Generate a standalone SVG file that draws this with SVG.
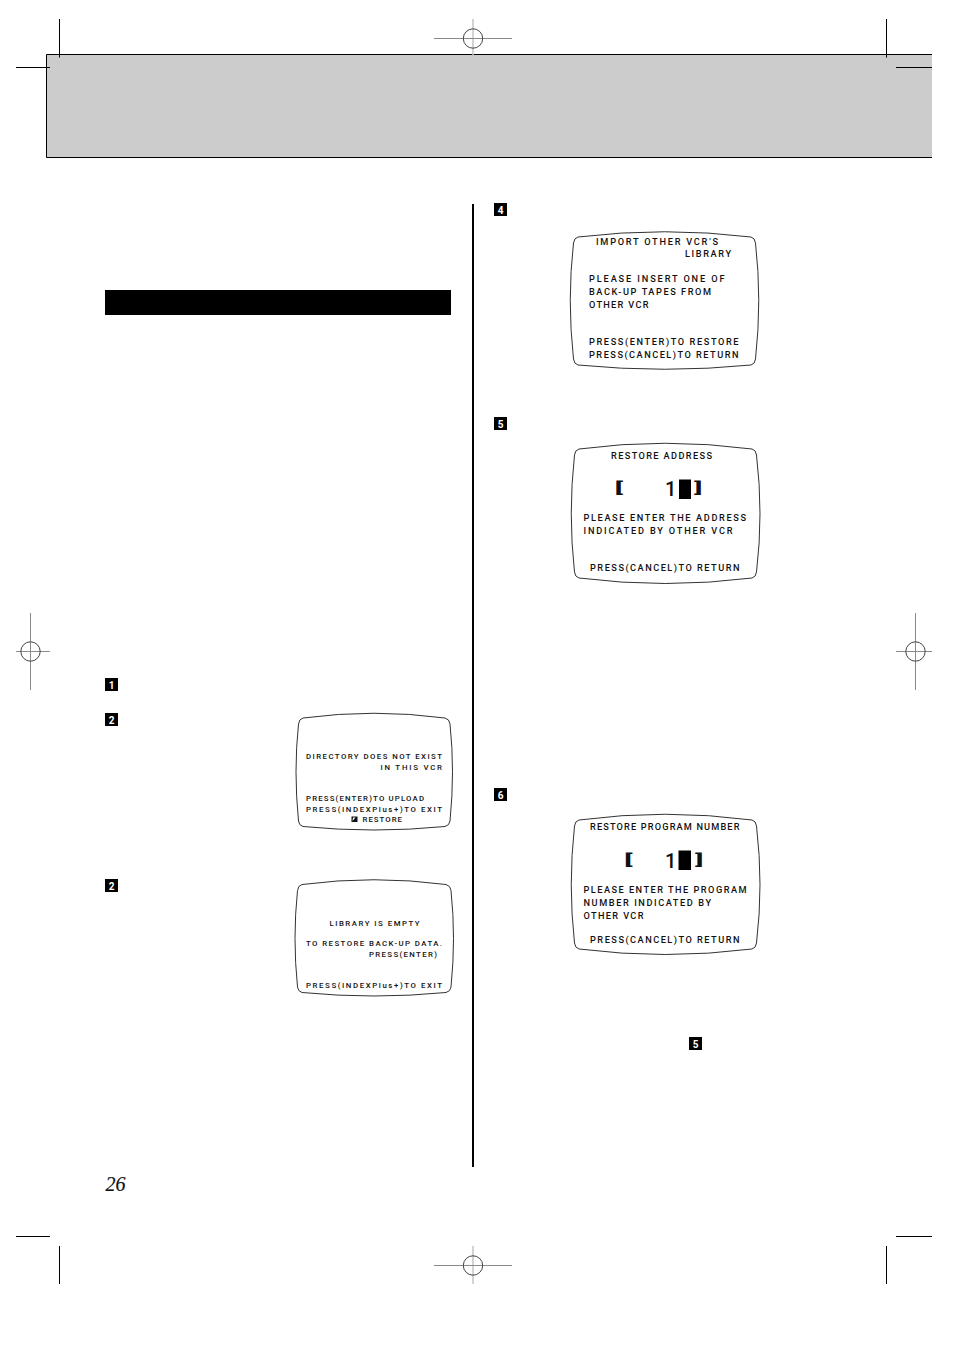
<svg xmlns="http://www.w3.org/2000/svg" width="954" height="1351" viewBox="0 0 954 1351">
<style>
.crop{stroke:#000;stroke-width:1;fill:none}
.reg{stroke:#8a8a8a;stroke-width:1;fill:none}
.regv{stroke:#c4c4c4;stroke-width:1.500;fill:none}
.regc{stroke:#444;stroke-width:1;fill:none}
.scr{fill:#fff;stroke:#333;stroke-width:1}
text{font-family:Roboto,"Liberation Sans",Arial,sans-serif;fill:#111}
.s{font-size:7.800px;font-weight:500}
.l{font-size:9.200px;font-weight:500}
.big{font-size:20px;font-weight:500}
.brk{font-size:12px;font-weight:700}
.num{font-size:10px;font-weight:700;fill:#fff;text-anchor:middle}
.pg{font-family:"Liberation Serif","Times New Roman",serif;font-style:italic;font-size:20px;fill:#111;stroke:#111;stroke-width:.2}
</style>
<rect width="954" height="1351" fill="#fff"/>
<g id="header">
<rect x="46" y="54" width="886" height="103.500" fill="#ccc"/>
<path class="crop" d="M932 54.500H46.500V157.500H932"/>
</g>
<g id="crop-marks">
<path class="crop" d="M59.500 19V57.500M16 67.500H50M886.500 19V57.500M896 67.500H932M16 1236.500H50M59.500 1246V1284M896 1236.500H932M886.500 1246V1284"/>
</g>
<g id="registration-marks">
<path class="regv" d="M473 19V57"/><path class="reg" d="M434 38.500H512"/><circle class="regc" cx="473" cy="38.500" r="9.700"/>
<path class="regv" d="M473 1246V1284"/><path class="reg" d="M434 1265.500H512"/><circle class="regc" cx="473" cy="1265.500" r="9.700"/>
<path class="reg" d="M16 651.500H50M30.500 613V690"/><circle class="regc" cx="30.500" cy="651.500" r="9.700"/>
<path class="reg" d="M896 651.500H932M915.500 613V690"/><circle class="regc" cx="915.500" cy="651.500" r="9.700"/>
</g>
<rect id="title-bar" x="105" y="290" width="346" height="25" fill="#000"/>
<rect id="divider" x="472" y="204" width="2" height="963" fill="#000"/>
<text id="page-number" class="pg" x="105.500" y="1191">26</text>
<g id="step-markers">
<g id="step-1"><rect x="105" y="678" width="13" height="13" fill="#000"/><text class="num" x="111.500" y="688.500">1</text></g>
<g id="step-2a"><rect x="105" y="713" width="13" height="13" fill="#000"/><text class="num" x="111.500" y="723.500">2</text></g>
<g id="step-2b"><rect x="105" y="879" width="13" height="13" fill="#000"/><text class="num" x="111.500" y="889.500">2</text></g>
<g id="step-4"><rect x="494" y="203" width="13" height="13" fill="#000"/><text class="num" x="500.500" y="213.500">4</text></g>
<g id="step-5a"><rect x="494" y="417" width="13" height="13" fill="#000"/><text class="num" x="500.500" y="427.500">5</text></g>
<g id="step-6"><rect x="494" y="788" width="13" height="13" fill="#000"/><text class="num" x="500.500" y="798.500">6</text></g>
<g id="step-5b"><rect x="689" y="1037" width="13" height="13" fill="#000"/><text class="num" x="695.500" y="1047.500">5</text></g>
</g>
<g id="connectors"></g>
<g id="screen-directory">
<path class="scr" d="M303 718Q374 708.500 445 718Q449.500 719 450 724Q455 771 450 821Q449.500 825.500 445 826.500Q374 833.500 303 826.500Q299 825.500 298.500 821Q293.500 771 298.500 724Q299 719 303 718Z"/>
<text class="s" x="306" y="759" textLength="136" lengthAdjust="spacing">DIRECTORY DOES NOT EXIST</text>
<text class="s" x="380.500" y="770" textLength="61.500" lengthAdjust="spacing">IN THIS VCR</text>
<text class="s" x="306" y="801" textLength="118" lengthAdjust="spacing">PRESS(ENTER)TO UPLOAD</text>
<text class="s" x="306" y="812" textLength="136" lengthAdjust="spacing">PRESS(INDEXPlus+)TO EXIT</text>
<rect x="351.500" y="816.500" width="6" height="5.500" fill="#111"/><path d="M352.500 821L355.500 817.500H353Z" fill="#fff"/>
<text class="s" x="362.500" y="822" textLength="39.500" lengthAdjust="spacing">RESTORE</text>
</g>
<g id="screen-library">
<path class="scr" d="M302 884.500Q374 875 446 884.500Q450.500 885.500 451 890.500Q456 938 451 987Q450.500 991.500 446 992.500Q374 999.500 302 992.500Q298 991.500 297.500 987Q292.500 938 297.500 890.500Q298 885.500 302 884.500Z"/>
<text class="s" x="329.500" y="926" textLength="90" lengthAdjust="spacing">LIBRARY IS EMPTY</text>
<text class="s" x="306" y="946" textLength="136" lengthAdjust="spacing">TO RESTORE BACK-UP DATA.</text>
<text class="s" x="369" y="957" textLength="68" lengthAdjust="spacing">PRESS(ENTER)</text>
<text class="s" x="306" y="988" textLength="136" lengthAdjust="spacing">PRESS(INDEXPlus+)TO EXIT</text>
</g>
<g id="screen-import">
<path class="scr" d="M578 237Q665 226.500 751 237Q755 238 755.500 243Q762 300 755.500 359Q755 364 751 365Q665 373.500 578 365Q574 364 573.500 359Q567 300 573.500 243Q574 238 578 237Z"/>
<text class="l" x="596" y="245" textLength="122" lengthAdjust="spacing">IMPORT OTHER VCR'S</text>
<text class="l" x="685" y="257" textLength="46" lengthAdjust="spacing">LIBRARY</text>
<text class="l" x="589" y="282" textLength="135.500" lengthAdjust="spacing">PLEASE INSERT ONE OF</text>
<text class="l" x="589" y="295" textLength="122" lengthAdjust="spacing">BACK-UP TAPES FROM</text>
<text class="l" x="589" y="308" textLength="59.500" lengthAdjust="spacing">OTHER VCR</text>
<text class="l" x="589" y="345" textLength="149.500" lengthAdjust="spacing">PRESS(ENTER)TO RESTORE</text>
<text class="l" x="589" y="358" textLength="149.500" lengthAdjust="spacing">PRESS(CANCEL)TO RETURN</text>
</g>
<g id="screen-address">
<path class="scr" d="M579 449Q665 437.500 752 449Q756 450 756.500 455Q763.500 514 756.500 572Q756 577 752 578Q665 589 579 578Q575 577 574.500 572Q568 514 574.500 455Q575 450 579 449Z"/>
<text class="l" x="611" y="459" textLength="101" lengthAdjust="spacing">RESTORE ADDRESS</text>
<text class="brk" transform="translate(614.500 493) scale(2.600 1.200)">[</text>
<text class="big" x="665" y="496">1</text>
<rect x="679" y="479.500" width="12" height="19.500" fill="#000"/>
<text class="brk" transform="translate(694 493) scale(2.600 1.200)">]</text>
<text class="l" x="583.500" y="521" textLength="162.500" lengthAdjust="spacing">PLEASE ENTER THE ADDRESS</text>
<text class="l" x="583.500" y="534" textLength="149" lengthAdjust="spacing">INDICATED BY OTHER VCR</text>
<text class="l" x="590" y="571" textLength="149.500" lengthAdjust="spacing">PRESS(CANCEL)TO RETURN</text>
</g>
<g id="screen-program">
<path class="scr" d="M579 820Q665 808.500 752 820Q756 821 756.500 826Q763.500 885 756.500 943Q756 948 752 949Q665 960 579 949Q575 948 574.500 943Q568 885 574.500 826Q575 821 579 820Z"/>
<text class="l" x="590" y="830" textLength="149.500" lengthAdjust="spacing">RESTORE PROGRAM NUMBER</text>
<text class="brk" transform="translate(624 865) scale(2.600 1.200)">[</text>
<text class="big" x="665" y="868">1</text>
<rect x="678.500" y="850.500" width="12.500" height="19.500" fill="#000"/>
<text class="brk" transform="translate(695 865) scale(2.600 1.200)">]</text>
<text class="l" x="583.500" y="893" textLength="163" lengthAdjust="spacing">PLEASE ENTER THE PROGRAM</text>
<text class="l" x="583.500" y="905.500" textLength="127.500" lengthAdjust="spacing">NUMBER INDICATED BY</text>
<text class="l" x="583.500" y="918.500" textLength="60" lengthAdjust="spacing">OTHER VCR</text>
<text class="l" x="590" y="943" textLength="149.500" lengthAdjust="spacing">PRESS(CANCEL)TO RETURN</text>
</g>
</svg>
